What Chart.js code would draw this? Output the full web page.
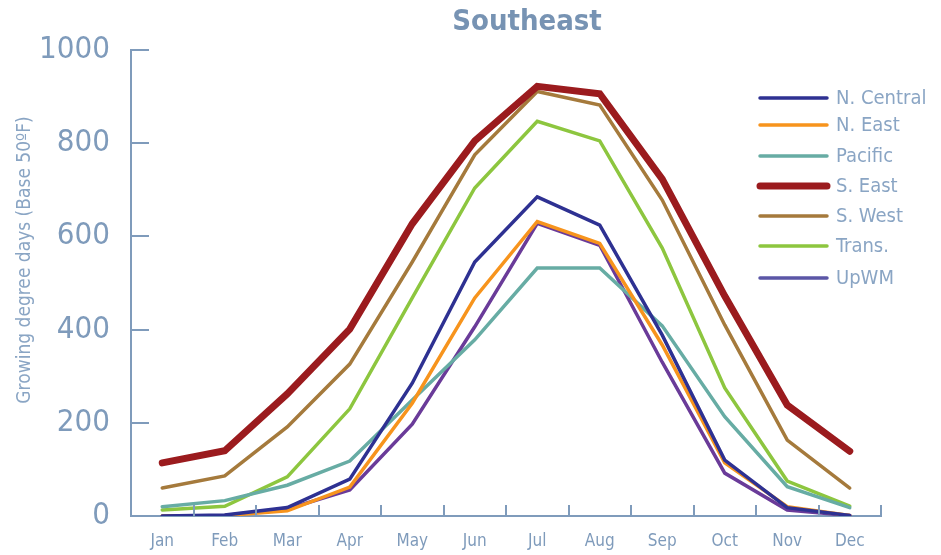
<!DOCTYPE html>
<html>
<head>
<meta charset="utf-8">
<script src="https://cdn.jsdelivr.net/npm/chart.js@4/dist/chart.umd.min.js"></script>
<style>
  body { margin: 0; background: #fff; }
  #wrap { width: 941px; height: 555px; }
</style>
</head>
<body>
<div id="wrap"><canvas id="myChart" width="941" height="555"></canvas></div>
<script>
// Data
const months = ["Jan", "Feb", "Mar", "Apr", "May", "Jun", "Jul", "Aug", "Sep", "Oct", "Nov", "Dec"];
const nCentral = [0, 2, 18, 79, 285, 545, 685, 624, 388, 120, 18, 1];
const nEast = [0, 1, 11, 62, 242, 468, 632, 585, 367, 114, 20, 1];
const pacific = [20, 33, 66, 118, 249, 378, 532, 532, 408, 213, 63, 18];
const sEast = [114, 140, 262, 401, 627, 805, 922, 906, 723, 472, 238, 139];
const sWest = [60, 86, 191, 326, 545, 775, 911, 882, 678, 410, 163, 60];
const trans = [13, 21, 84, 230, 468, 704, 847, 805, 575, 275, 75, 21];
const upWM = [0, 1, 15, 56, 197, 406, 628, 581, 330, 92, 13, 1];
const yTicks = [0, 200, 400, 600, 800, 1000];

const FONT = "'DejaVu Sans Condensed', 'DejaVu Sans', sans-serif";
const TEXT = "#7f9bbb";
const AXIS = "#7f9bbb";

const mk = (label, data, color, width) => ({
  label: label,
  data: data,
  borderColor: color,
  backgroundColor: color,
  borderWidth: width,
  pointRadius: 0,
  tension: 0,
  borderCapStyle: "round",
  borderJoinStyle: "miter",
});

// inward ticks, titles and legend
const decor = {
  id: "decor",
  afterDraw(chart) {
    const c = chart.ctx;
    const xs = chart.scales.x;
    const ys = chart.scales.y;
    const area = chart.chartArea;
    c.save();
    c.strokeStyle = AXIS;
    c.lineWidth = 2;
    // y ticks pointing right
    yTicks.forEach((v) => {
      const y = Math.round(ys.getPixelForValue(v));
      c.beginPath();
      c.moveTo(area.left, y);
      c.lineTo(area.left + 18, y);
      c.stroke();
    });
    // x ticks pointing up at category boundaries
    for (let i = 0; i <= months.length; i++) {
      const x = Math.round(xs.getPixelForValue(i - 0.5));
      c.beginPath();
      c.moveTo(x, area.bottom);
      c.lineTo(x, area.bottom - 11);
      c.stroke();
    }
    // title
    c.fillStyle = "#7793b3";
    c.font = "bold condensed 29px " + FONT;
    c.textAlign = "center";
    c.textBaseline = "middle";
    c.fillText("Southeast", 527, 22);
    // y axis title
    c.save();
    c.translate(25, 260);
    c.rotate(-Math.PI / 2);
    c.fillStyle = "#8aa5c4";
    c.font = "condensed 19px " + FONT;
    c.fillText("Growing degree days (Base 50ºF)", 0, 0);
    c.restore();
    // legend
    c.font = "condensed 20px " + FONT;
    c.textAlign = "left";
    const rows = [98, 125, 156, 186, 216, 246, 278];
    chart.data.datasets.forEach((ds, i) => {
      const y = rows[i];
      c.strokeStyle = i === 6 ? "#5b56a6" : ds.borderColor;
      c.lineWidth = ds.borderWidth;
      c.lineCap = "round";
      c.beginPath();
      c.moveTo(760, y);
      c.lineTo(827, y);
      c.stroke();
      c.fillStyle = "#8aa5c4";
      c.fillText(ds.label, 836, y + 1);
    });
    c.restore();
  },
};

const ctx = document.getElementById("myChart").getContext("2d");
const myChart = new Chart(ctx, {
  type: "line",
  data: {
    labels: months,
    datasets: [
      mk("N. Central", nCentral, "#2e3192", 3.5),
      mk("N. East", nEast, "#f7941d", 3.5),
      mk("Pacific", pacific, "#67aca4", 3.5),
      mk("S. East", sEast, "#9b1b1e", 7),
      mk("S. West", sWest, "#a57a3c", 3.5),
      mk("Trans.", trans, "#8dc63f", 3.5),
      mk("UpWM", upWM, "#6a3b99", 3.5),
    ],
  },
  options: {
    responsive: false,
    animation: false,
    layout: { padding: { top: 50, right: 60, left: 0, bottom: 0 } },
    plugins: {
      legend: { display: false },
      tooltip: { enabled: false },
    },
    scales: {
      x: {
        offset: true,
        grid: { display: false, offset: true },
        border: { display: true, color: AXIS, width: 2 },
        ticks: {
          color: TEXT,
          font: { family: FONT, size: 17, weight: "condensed" },
          padding: 7,
          maxRotation: 0,
        },
        afterFit: (s) => { s.height = 39; },
      },
      y: {
        min: 0,
        max: 1000,
        afterBuildTicks: (s) => { s.ticks = yTicks.map((v) => ({ value: v })); },
        grid: { display: false },
        border: { display: true, color: AXIS, width: 2 },
        ticks: {
          color: TEXT,
          font: { family: FONT, size: 31, weight: "condensed" },
          padding: 13,
          callback: (v) => String(v),
        },
        afterFit: (s) => { s.width = 131; },
      },
    },
  },
  plugins: [decor],
});
</script>
</body>
</html>
